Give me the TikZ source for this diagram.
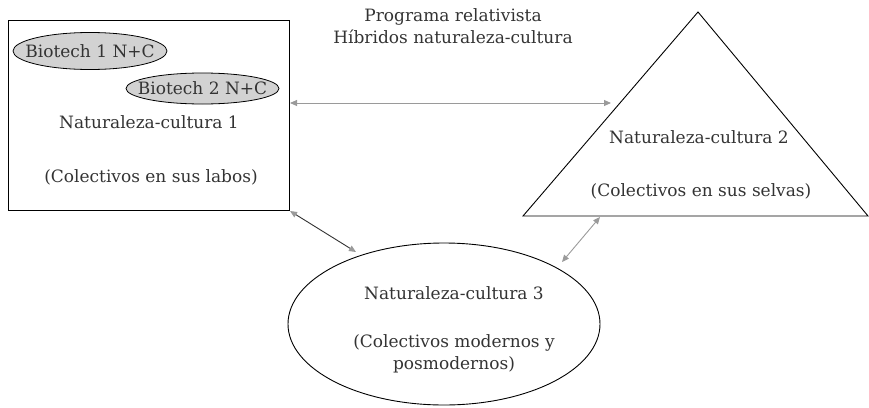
\documentclass[tikz,border=0pt]{standalone}
\usepackage{fontspec}
\setmainfont{DejaVu Serif}
\usetikzlibrary{shapes.geometric,arrows.meta}
\definecolor{tipgray}{HTML}{9A9A9A}
\definecolor{bubble}{HTML}{D2D2D2}
\definecolor{ink}{HTML}{333333}
\begin{document}
\begin{tikzpicture}[x=1pt,y=-1pt,
  lbl/.style={font=\fontsize{17}{22}\selectfont, text=ink, inner sep=0pt, align=center},
  frame/.style={draw=black, line width=0.9pt},
  bio/.style={ellipse, draw=black, line width=0.8pt, fill=bubble, inner sep=0pt},
  link/.style={line width=0.9pt, {Triangle[length=7pt,width=6pt,color=tipgray]}-{Triangle[length=7pt,width=6pt,color=tipgray]}},
  ]
\useasboundingbox (0,0) rectangle (869,407);

% Naturaleza-cultura 1 box
\node[frame, rectangle, minimum width=281pt, minimum height=190pt, inner sep=0pt] (box) at (148.5,115) {};
\node[bio, minimum width=154pt, minimum height=37pt] (bio1) at (90,51) {};
\node[lbl] at (bio1) {Biotech 1 N+C};
\node[bio, minimum width=153pt, minimum height=31pt] (bio2) at (202.5,88.5) {};
\node[lbl] at (bio2) {Biotech 2 N+C};
\node[lbl] (nc1) at (149,122) {Naturaleza-cultura 1};
\node[lbl] (col1) at (151,177) {(Colectivos en sus labos)};

% Naturaleza-cultura 2 triangle
\coordinate (apex) at (698,12);
\coordinate (bl) at (523,216);
\coordinate (br) at (868,216);
\draw[frame, line join=miter] (apex) -- (br) -- (bl) -- cycle;
\node[lbl] (nc2) at (699,137) {Naturaleza-cultura 2};
\node[lbl] (col2) at (701,191) {(Colectivos en sus selvas)};

% Naturaleza-cultura 3 ellipse
\node[ellipse, frame, minimum width=312pt, minimum height=162pt, inner sep=0pt] (ell) at (444,324) {};
\node[lbl] (nc3) at (454,293) {Naturaleza-cultura 3};
\node[lbl] (col3) at (454,354) {(Colectivos modernos y\\posmodernos)};

% title
\node[lbl] (title) at (453,26) {Programa relativista\\Híbridos naturaleza-cultura};

% connectors
\coordinate (h1) at (290,103);
\coordinate (h2) at (611,103);
\draw[link, draw=tipgray] (h1) -- (h2);
\coordinate (d1) at (290,211);
\coordinate (d2) at (356,252);
\draw[link, draw=ink] (d1) -- (d2);
\coordinate (t1) at (600,217);
\coordinate (t2) at (562,262);
\draw[link, draw=tipgray] (t1) -- (t2);
\end{tikzpicture}
\end{document}
